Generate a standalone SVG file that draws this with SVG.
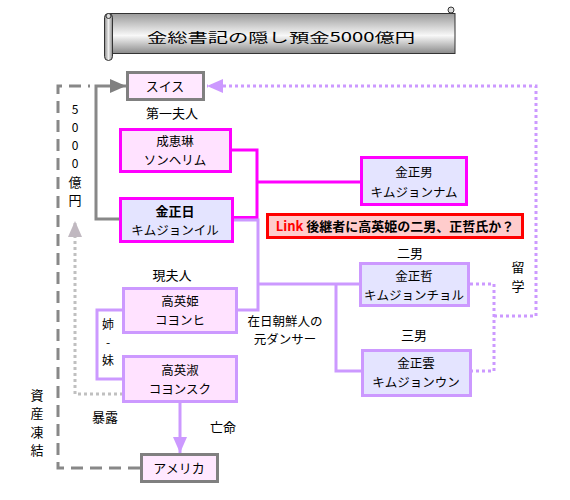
<svg xmlns="http://www.w3.org/2000/svg" width="570" height="500" viewBox="0 0 570 500">
<defs>
<style>
.t{font-family:"Noto Sans CJK JP","Noto Sans CJK SC",sans-serif;font-size:13px;fill:#000;text-anchor:middle}
.s{font-size:12.5px}
.v{font-size:12px}
.b{font-weight:bold}
.gray{fill:#FFE8FF;stroke:#808080;stroke-width:3}
.mag{stroke:#FF00FF;stroke-width:3}
.pur{stroke:#CC99FF;stroke-width:3}
.pink{fill:#FFE2FF}
.lav{fill:#E4E4FF}
.c{fill:none}
</style>
<linearGradient id="sg" x1="0" y1="0" x2="0" y2="1">
<stop offset="0" stop-color="#9A9A9A"/>
<stop offset="0.55" stop-color="#F8F8F8"/>
<stop offset="1" stop-color="#8A8A8A"/>
</linearGradient>
<linearGradient id="rg" x1="0" y1="0" x2="1" y2="0">
<stop offset="0" stop-color="#888"/>
<stop offset="0.5" stop-color="#EEE"/>
<stop offset="1" stop-color="#888"/>
</linearGradient>
<marker id="ag" markerUnits="userSpaceOnUse" markerWidth="16" markerHeight="14" refX="16" refY="7" orient="auto"><path d="M0,0 L16,7 L0,14 Z" fill="#808080"/></marker>
<marker id="ap" markerUnits="userSpaceOnUse" markerWidth="16" markerHeight="14" refX="16" refY="7" orient="auto"><path d="M0,0 L16,7 L0,14 Z" fill="#CC99FF"/></marker>
<marker id="al" markerUnits="userSpaceOnUse" markerWidth="16" markerHeight="14" refX="16" refY="7" orient="auto"><path d="M0,0 L16,7 L0,14 Z" fill="#C0B8C0"/></marker>
</defs>
<rect width="570" height="500" fill="#fff"/>

<g id="title">
<rect x="110" y="13.5" width="345" height="40" fill="url(#sg)" stroke="#333" stroke-width="1"/>
<rect x="104.5" y="13.5" width="8" height="47" rx="4" fill="url(#rg)" stroke="#333" stroke-width="1"/>
<circle cx="108.5" cy="16" r="2.5" fill="#ddd" stroke="#333" stroke-width="1"/>
<circle cx="451" cy="10" r="3" fill="#ddd" stroke="#333" stroke-width="1"/>
<text class="t" x="281" y="42" font-size="22" textLength="268" lengthAdjust="spacingAndGlyphs">金総書記の隠し預金5000億円</text>
</g>

<g id="connectors" class="c">
<path class="mag" d="M231,150 H257 V217.5 H233 M257,182 H361"/>
<path class="pur" d="M233,220 H258 V310 H237 M258,284 H361 M336,284 V371 H362 M123,310 H97 V379 H123"/>
<path class="pur" d="M180,403 V453" marker-end="url(#ap)"/>
<path class="pur" stroke-dasharray="3 3" d="M470,284 H494 V371 H471 M494,316 H536 V86 H207" marker-end="url(#ap)"/>
<path stroke="#888" stroke-width="3" d="M120,219 H96 V86 H126" marker-end="url(#ag)"/>
<path stroke="#888" stroke-width="3" stroke-dasharray="12 7" d="M140,468 H58 V86 H90"/>
<path stroke="#C0C0C0" stroke-width="3" stroke-dasharray="3 3" d="M123,394 H75 V221" marker-end="url(#al)"/>
</g>

<g id="suisu"><rect class="gray" x="127.5" y="72.5" width="76" height="27"/><text class="t" x="165" y="91">スイス</text></g>
<g id="amerika"><rect class="gray" x="141.5" y="454.5" width="76" height="27"/><text class="t" x="179" y="473">アメリカ</text></g>

<g id="seikeirin"><rect class="mag pink" x="120.5" y="129.5" width="110" height="42"/><text class="t s" x="175" y="146">成恵琳</text><text class="t s" x="175" y="165">ソンヘリム</text></g>
<g id="kimjongil"><rect class="mag lav" x="120.5" y="198.5" width="112" height="43"/><text class="t b" x="175" y="216" font-size="13.5">金正日</text><text class="t s" x="175" y="235">キムジョンイル</text></g>
<g id="kimjongnam"><rect class="mag lav" x="361.5" y="157.5" width="105" height="47"/><text class="t s" x="414" y="177">金正男</text><text class="t s" x="414" y="197">キムジョンナム</text></g>

<g id="link"><rect x="267.5" y="214.5" width="255" height="23" fill="#FFCCCC" stroke="#FF0000" stroke-width="3"/><text class="t b" x="395" y="231" font-size="12.5"><tspan fill="#FF0000">Link</tspan> 後継者に高英姫の二男、正哲氏か？</text></g>

<g id="kogoki"><rect class="pur pink" x="123.5" y="288.5" width="113" height="44"/><text class="t s" x="180" y="306">高英姫</text><text class="t s" x="180" y="325">コヨンヒ</text></g>
<g id="koeisyuku"><rect class="pur pink" x="123.5" y="356.5" width="113" height="45"/><text class="t s" x="180" y="375">高英淑</text><text class="t s" x="180" y="394">コヨンスク</text></g>
<g id="kimjongchol"><rect class="pur lav" x="360.5" y="263.5" width="108" height="42"/><text class="t s" x="414" y="281">金正哲</text><text class="t s" x="414" y="300">キムジョンチョル</text></g>
<g id="kimjongun"><rect class="pur lav" x="362.5" y="350.5" width="108" height="45"/><text class="t s" x="416" y="368">金正雲</text><text class="t s" x="416" y="387">キムジョンウン</text></g>

<g id="labels">
<text class="t" x="172" y="118">第一夫人</text>
<text class="t" x="172" y="280">現夫人</text>
<text class="t" x="410" y="258">二男</text>
<text class="t" x="414" y="340">三男</text>
<text class="t s" x="285" y="326">在日朝鮮人の</text>
<text class="t s" x="285" y="344">元ダンサー</text>
<text class="t v" x="108" y="329">姉</text>
<text class="t v" x="108" y="347">-</text>
<text class="t v" x="108" y="365">妹</text>
<text class="t" x="518" y="272">留</text>
<text class="t" x="518" y="291">学</text>
<text class="t v" x="75" y="114">5</text>
<text class="t v" x="75" y="132">0</text>
<text class="t v" x="75" y="150">0</text>
<text class="t v" x="75" y="168">0</text>
<text class="t" x="75" y="187">億</text>
<text class="t" x="75" y="205">円</text>
<text class="t" x="37" y="400">資</text>
<text class="t" x="37" y="418">産</text>
<text class="t" x="37" y="437">凍</text>
<text class="t" x="37" y="455">結</text>
<text class="t" x="105" y="422">暴露</text>
<text class="t" x="223" y="432">亡命</text>
</g>
</svg>
